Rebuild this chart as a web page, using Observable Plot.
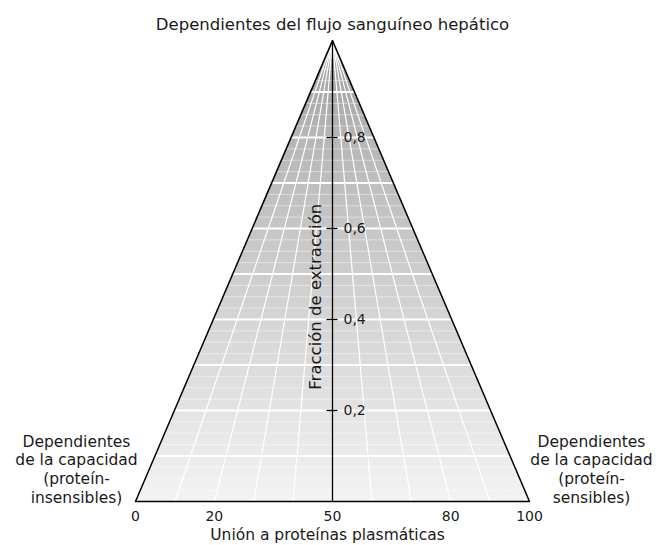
<!DOCTYPE html>
<html><head><meta charset="utf-8">
<script src="https://cdn.jsdelivr.net/npm/d3@7"></script>
<script src="https://cdn.jsdelivr.net/npm/@observablehq/plot@0.6"></script>
<style>body{margin:0;background:#fff}</style>
</head><body><div id="chart"></div>
<script>
// ---- data ----
const apexHeight = 1.013;                 // apex of the triangle on the extraction-fraction scale
const trianglePoints = [
  {x: 0, y: 0},
  {x: 50, y: apexHeight},
  {x: 100, y: 0}
];
const baseTicks = [0, 20, 50, 80, 100];
const baseTickLabels = ["0", "20", "50", "80", "100"];
const extractionTicks = [0.2, 0.4, 0.6, 0.8];
const extractionTickLabels = ["0,2", "0,4", "0,6", "0,8"];
const gridLevels = [0.1, 0.2, 0.3, 0.4, 0.5, 0.6, 0.7, 0.8, 0.9];
const fineLevels = [0.025, 0.05, 0.075, 0.125, 0.15, 0.175, 0.225, 0.25, 0.275,
  0.325, 0.35, 0.375, 0.425, 0.45, 0.475, 0.525, 0.55, 0.575, 0.625, 0.65, 0.675,
  0.725, 0.75, 0.775, 0.825, 0.85, 0.875, 0.925, 0.95, 0.975];
const radialStops = [10, 20, 30, 40, 60, 70, 80, 90];
const titleTop = "Dependientes del flujo sanguíneo hepático";
const leftLabel = "Dependientes\nde la capacidad\n(proteín-\ninsensibles)";
const rightLabel = "Dependientes\nde la capacidad\n(proteín-\nsensibles)";
const yTitle = "Fracción de extracción";
const xTitle = "Unión a proteínas plasmáticas";

// helpers: a horizontal level clipped to the triangle
const half = h => 50 * (1 - h / apexHeight);
const levelSeg = h => ({x1: 50 - half(h), x2: 50 + half(h), y: h});
const triClosed = [...trianglePoints, trianglePoints[0]];

const plot = Plot.plot({
  width: 659,
  height: 545,
  margin: 0,
  x: {domain: [0, 100], range: [135, 529], axis: null},
  y: {domain: [0, 1], range: [501, 46], axis: null},
  style: {fontFamily: "'DejaVu Sans', 'Noto Sans', sans-serif", fontSize: "15px", color: "#1a1a1a", background: "#fff"},
  marks: [
    Plot.areaY(trianglePoints, {x: "x", y1: 0, y2: "y", fill: "#cccccc", curve: "linear"}),
    Plot.link(fineLevels.map(levelSeg), {x1: "x1", x2: "x2", y1: "y", y2: "y", stroke: "#fff", strokeOpacity: 0.45, strokeWidth: 1}),
    Plot.link(radialStops, {x1: 50, y1: apexHeight, x2: d => d, y2: 0, stroke: "#fff", strokeWidth: 1.2}),
    Plot.link(gridLevels.map(levelSeg), {x1: "x1", x2: "x2", y1: "y", y2: "y", stroke: "#fff", strokeWidth: 1.8}),
    Plot.line(triClosed, {x: "x", y: "y", stroke: "#000", strokeWidth: 1.5, curve: "linear", strokeLinejoin: "miter"}),
    Plot.ruleX([50], {y1: 0, y2: apexHeight, stroke: "#000", strokeWidth: 1.3}),
    Plot.ruleY(extractionTicks, {y: d => d, x1: 48.6, x2: 51.4, stroke: "#000", strokeWidth: 1.3}),
    Plot.text(extractionTicks, {x: 50, y: d => d, text: (d, i) => extractionTickLabels[i], dx: 11, textAnchor: "start", fontSize: 14}),
    Plot.text([yTitle], {x: 50, y: 0.45, text: d => d, rotate: -90, dx: -17, fontSize: 16.5}),
    Plot.text([titleTop], {x: 50, y: apexHeight, text: d => d, dy: -16, fontSize: 16.5}),
    Plot.text(baseTicks, {x: d => d, y: 0, text: (d, i) => baseTickLabels[i], dy: 15, fontSize: 14}),
    Plot.text([xTitle], {x: 50, y: 0, text: d => d, dx: -5, dy: 34, fontSize: 15.5}),
    Plot.text([leftLabel], {x: 0, y: 0, text: d => d, dx: -59, dy: 1, textAnchor: "middle", lineAnchor: "bottom", lineHeight: 1.2, fontSize: 15.5}),
    Plot.text([rightLabel], {x: 100, y: 0, text: d => d, dx: 62, dy: 1, textAnchor: "middle", lineAnchor: "bottom", lineHeight: 1.2, fontSize: 15.5})
  ]
});

const svg = d3.select(plot);
svg.insert("defs", ":first-child").html(
  '<linearGradient id="gfill" x1="0" y1="0" x2="0" y2="1">' +
  '<stop offset="0" stop-color="#9a9a9a"/>' +
  '<stop offset="0.21" stop-color="#b6b6b6"/>' +
  '<stop offset="0.41" stop-color="#c6c6c6"/>' +
  '<stop offset="0.61" stop-color="#d5d5d5"/>' +
  '<stop offset="0.8" stop-color="#e3e3e3"/>' +
  '<stop offset="1" stop-color="#f3f3f3"/>' +
  '</linearGradient>');
svg.select('g[aria-label="area"] path').attr("fill", "url(#gfill)");
document.getElementById("chart").appendChild(plot);
</script>
</body></html>
